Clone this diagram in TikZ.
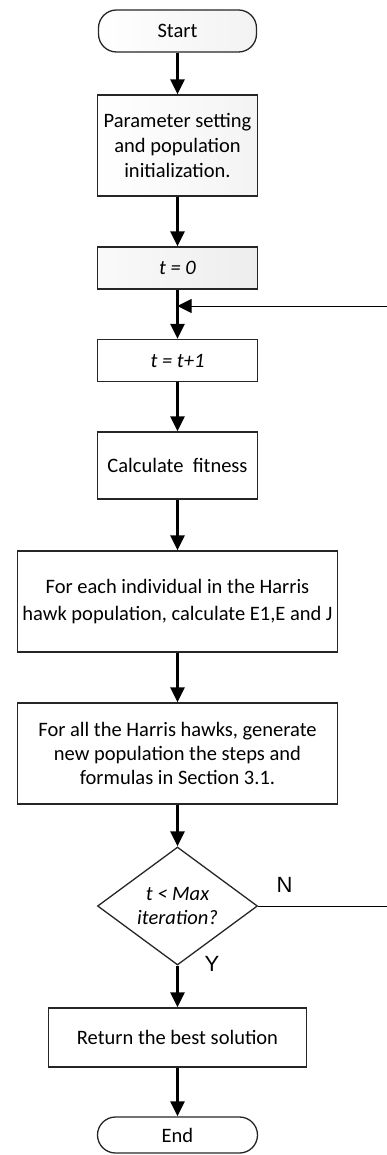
\documentclass[tikz,border=0pt]{standalone}
\usepackage{fontspec}
\setmainfont{Carlito}
\newfontfamily\labfont{Liberation Sans}
\usetikzlibrary{arrows.meta,shapes.geometric}
\tikzset{
  box/.style={draw=black!85, line width=1.3pt, align=center, inner sep=0pt,
    font=\fontsize{20.5}{25}\selectfont},
  term/.style={box, rounded corners=18pt},
  dec/.style={diamond, draw=black!85, line width=1.3pt, align=center, inner sep=0pt,
    font=\fontsize{20.5}{24}\selectfont\itshape},
  flow/.style={line width=2.4pt, -{Triangle[length=15pt,width=14pt]}},
  back/.style={line width=1pt, -{Triangle[length=14pt,width=14pt]}},
  lab/.style={font=\fontsize{22}{22}\selectfont\labfont, inner sep=0pt}
}
\begin{document}
\begin{tikzpicture}[x=1pt,y=-1pt]
\useasboundingbox (0,0) rectangle (387,1155);
\node[term, left color=white, right color=gray!10, minimum width=158pt, minimum height=42pt] (start) at (177.5,31) {Start};
\node[box, left color=white, right color=gray!9, minimum width=160pt, minimum height=101pt] (param) at (177.5,145.5) {Parameter setting\\and population\\initialization.};
\node[box, left color=gray!4, right color=gray!14, minimum width=160pt, minimum height=42pt] (t0) at (177.5,268) {\itshape t = 0};
\node[box, minimum width=160pt, minimum height=42pt] (t1) at (177.5,360.5) {\itshape t = t+1};
\node[box, minimum width=160pt, minimum height=67pt] (fit) at (177.5,465.5) {Calculate\ \ fitness};
\node[box, minimum width=320pt, minimum height=101pt, font=\fontsize{20.5}{27}\selectfont] (each) at (177.5,601.5) {For each individual in the Harris\\hawk population, calculate E1,E and J};
\node[box, minimum width=320pt, minimum height=101pt, font=\fontsize{20.5}{24}\selectfont] (all) at (177.5,753.5) {For all the Harris hawks, generate\\new population the steps and\\formulas in Section 3.1.};
\node[dec, minimum width=160pt, minimum height=102pt] (dec) at (177.5,906) {t < Max\\iteration?};
\node[box, minimum width=258pt, minimum height=59pt] (ret) at (177.5,1037.5) {Return the best solution};
\node[term, minimum width=160pt, minimum height=36pt] (end) at (177.5,1135) {End};
\node[lab] (n) at (284.5,885) {N};
\node[lab] (y) at (212,963.5) {Y};
\coordinate (loop) at (177.5,306);
\coordinate (c1) at (393,906);
\coordinate (c2) at (393,306);
\draw[flow] (start) -- (param);
\draw[flow] (param) -- (t0);
\draw[flow] (t0) -- (t1);
\draw[flow] (t1) -- (fit);
\draw[flow] (fit) -- (each);
\draw[flow] (each) -- (all);
\draw[flow] (all) -- (dec);
\draw[flow] (dec) -- (ret);
\draw[flow] (ret) -- (end);
\draw[back] (dec.east) -- (c1) -- (c2) -- (loop);
\end{tikzpicture}
\end{document}
